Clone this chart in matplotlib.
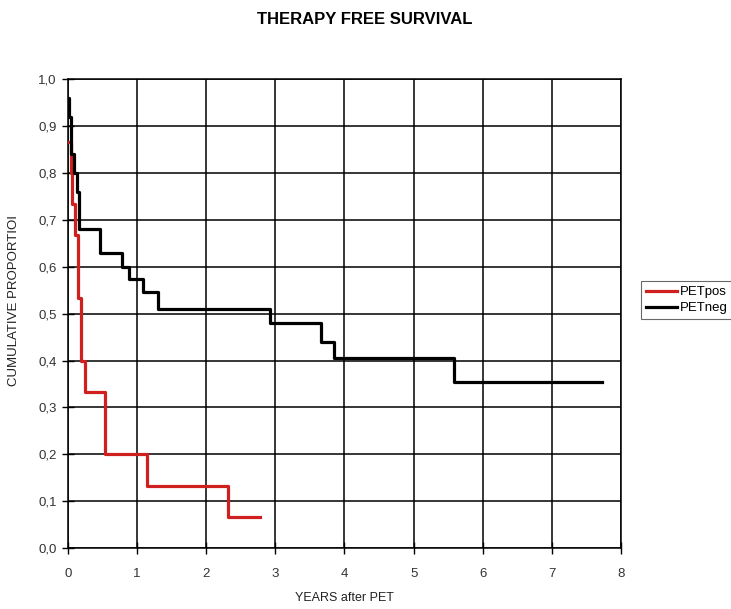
import matplotlib.pyplot as plt
from matplotlib.ticker import FuncFormatter

# PETpos step curve (time where each level starts, level), ends at pos_end
pos_times = [0.0, 0.04, 0.06, 0.10, 0.14, 0.19, 0.25, 0.535, 1.14, 2.32]
pos_surv = [0.867, 0.80, 0.733, 0.667, 0.533, 0.40, 0.333, 0.20, 0.133, 0.067]
pos_end = 2.78

# PETneg step curve
neg_times = [0.0, 0.015, 0.05, 0.09, 0.13, 0.16, 0.46, 0.78, 0.88, 1.09, 1.30, 2.92, 3.66, 3.85, 5.59]
neg_surv = [0.96, 0.92, 0.84, 0.80, 0.76, 0.68, 0.63, 0.60, 0.573, 0.546, 0.51, 0.48, 0.44, 0.405, 0.354]
neg_end = 7.73

x_ticks = list(range(0, 9))
y_ticks = [i / 10 for i in range(0, 11)]

plt.rcParams['font.family'] = ['Liberation Sans', 'DejaVu Sans']

fig = plt.figure(figsize=(7.31, 6.09), dpi=100)
ax = fig.add_axes([0.093, 0.100, 0.7565, 0.770])

ax.step(pos_times + [pos_end], pos_surv + [pos_surv[-1]], where='post',
        color='#d01f1f', lw=2.3, label='PETpos', zorder=3)
ax.step(neg_times + [neg_end], neg_surv + [neg_surv[-1]], where='post',
        color='black', lw=2.3, label='PETneg', zorder=4)

ax.set_xlim(0, 8)
ax.set_ylim(0, 1.0)
ax.set_xticks(x_ticks)
ax.set_yticks(y_ticks)
ax.yaxis.set_major_formatter(FuncFormatter(lambda v, p: ('%.1f' % v).replace('.', ',')))
ax.grid(True, color='black', lw=1.1)
for s in ax.spines.values():
    s.set_color('black')
    s.set_linewidth(1.1)
ax.tick_params(direction='inout', length=8, width=1.0, labelsize=9.5, labelcolor='#333333')
ax.tick_params(axis='x', pad=10)
ax.tick_params(axis='y', pad=4)

ax.set_xlabel('YEARS after PET', fontsize=9, labelpad=9, color='#222222')
fig.text(0.019, 0.507, 'CUMULATIVE PROPORTIOI', rotation=90, ha='center', va='center',
         fontsize=9.5, color='#222222')
fig.text(0.499, 0.968, 'THERAPY FREE SURVIVAL', ha='center', va='center',
         fontsize=12, fontweight='bold')

leg = fig.legend(loc='center left', bbox_to_anchor=(0.868, 0.507), fontsize=9.5,
                 frameon=True, fancybox=False, edgecolor='#444444', handlelength=2.4,
                 borderpad=0.35, labelspacing=0.3, handletextpad=0.2)
leg.get_frame().set_linewidth(0.8)

fig.savefig('out.png', dpi=100)
